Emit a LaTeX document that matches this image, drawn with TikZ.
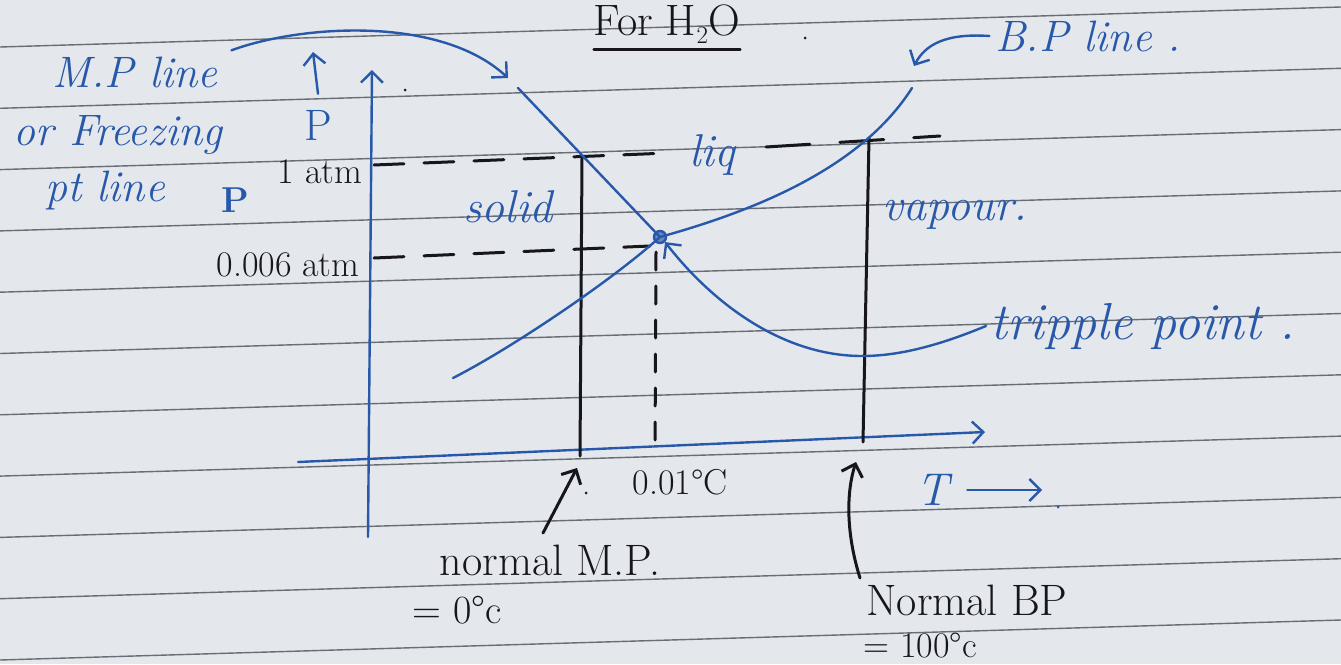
\documentclass[tikz,border=0pt]{standalone}
\usepackage{fontspec}
\usetikzlibrary{arrows.meta}
\definecolor{paper}{RGB}{228,232,236}
\definecolor{ruleclr}{RGB}{105,110,118}
\definecolor{ink}{RGB}{40,88,170}
\definecolor{pen}{RGB}{22,22,28}
\tikzset{
  bl/.style={text=ink, font=\fontsize{46}{50}\selectfont\itshape, inner sep=0pt},
  bk/.style={text=pen, font=\fontsize{40}{44}\selectfont, inner sep=0pt},
  bline/.style={draw=ink, line width=2.4pt, line cap=round},
  kline/.style={draw=pen, line width=3pt, line cap=round},
  tip/.style={-{Straight Barb[length=11pt,width=22pt]}},
  ruled/.style={draw=ruleclr, line width=1.4pt},
  inkdot/.style={circle, fill=#1, inner sep=0pt, minimum size=4pt},
}
\begin{document}
\begin{tikzpicture}[x=1pt,y=-1pt]
\fill[paper] (0,0) rectangle (1341,664);
\useasboundingbox (0,0) rectangle (1341,664);
% ruled lines of the notebook page
\foreach \k in {0,...,10} \draw[ruled] (0,{47+61.3*\k}) -- (1341,{7+61.3*\k});

% title
\node[bk, font=\fontsize{44}{48}\selectfont] (title) at (667,24) {For H$_2$O};
\draw[kline, line width=2.5pt] ([yshift=-6pt]title.south west) -- ([yshift=-6pt]title.south east);
\node[inkdot=pen, minimum size=3pt] (d0) at (805,38) {};

% axes
\coordinate (ybot) at (368,537);
\coordinate (ytop) at (372,70);
\coordinate (xl) at (298,462);
\coordinate (xr) at (985,432);
\draw[bline, tip] (ybot) -- (ytop);
\draw[bline, tip] (xl) -- (xr);
\node[inkdot=pen, minimum size=3pt] (d1) at (405,90) {};

% axis labels
\node[bl, font=\fontsize{44}{48}\selectfont] (plab) at (318,125) {P};
\coordinate (ptop) at (313,52);
\draw[bline, tip] ([yshift=16pt]plab.north) -- (ptop);
\node[bl, font=\fontsize{36}{40}\selectfont\bfseries] (p2) at (235,200) {P};
\node[bl] (T) at (933,490) {T};
\coordinate (tend) at (1042,490);
\draw[bline, tip] ([xshift=18pt]T.east) -- (tend);
\node[inkdot=ink, minimum size=3pt] (d2) at (1058,507) {};

% pressure ticks
\node[bk, font=\fontsize{36}{40}\selectfont] (atm1) at (320,172) {1 atm};
\node[bk, font=\fontsize{36}{40}\selectfont] (atm2) at (288,265) {0.006 atm};
\coordinate (a1l) at (374,165);
\coordinate (a1m) at (668,153);
\coordinate (a1n) at (766,147);
\coordinate (a1r) at (940,136);
\coordinate (a2l) at (374,258);
\coordinate (a2r) at (650,246);
\draw[kline, dash pattern=on 30pt off 20pt] (a1l) -- (a1m);
\draw[kline, dash pattern=on 44pt off 30pt] (a1n) -- (a1r);
\draw[kline, dash pattern=on 30pt off 20pt] (a2l) -- (a2r);

% vertical temperature lines
\coordinate (mpt) at (582,158);
\coordinate (mpb) at (580,456);
\coordinate (bpt) at (869,138);
\coordinate (bpb) at (863,442);
\coordinate (tpv) at (656,252);
\coordinate (tpb) at (655,452);
\draw[kline] (mpt) -- (mpb);
\draw[kline] (bpt) -- (bpb);
\draw[kline, dash pattern=on 18pt off 16pt] (tpv) -- (tpb);

% phase boundary curves
\node[circle, draw=ink, fill=ink!70, line width=2.4pt, minimum size=12pt, inner sep=0pt] (tp) at (660,237) {};
\coordinate (mptop) at (518,88);
\coordinate (vl) at (453,378);
\coordinate (vr) at (912,88);
\draw[bline] (mptop) -- (tp.center);
\draw[bline] (vl) .. controls (510,349) and (610,282) .. (tp.center)
             .. controls (750,212) and (860,170) .. (vr);

% region labels
\node[bl] (solid) at (508,207) {solid};
\node[bl] (liq) at (712,155) {liq};
\node[bl] (vap) at (955,215) {vapour.};

% annotations with leaders
\node[bl, font=\fontsize{44}{48}\selectfont\itshape] (mp1) at (135,72) {M.P line};
\node[bl, font=\fontsize{44}{48}\selectfont\itshape] (mp2) at (118,135) {or Freezing};
\node[bl, font=\fontsize{44}{48}\selectfont\itshape] (mp3) at (105,190) {pt line};
\coordinate (mparr) at (508,78);
\draw[bline, tip] ([xshift=14pt,yshift=6pt]mp1.north east) .. controls (300,25) and (440,15) .. (mparr);

\node[bl, font=\fontsize{44}{48}\selectfont\itshape] (bpl) at (1088,36) {B.P line .};
\coordinate (bparr) at (914,66);
\draw[bline, tip] ([xshift=-6pt]bpl.west) .. controls (945,33) and (925,45) .. (bparr);

\node[bl, font=\fontsize{52}{56}\selectfont\itshape, anchor=west] (trip) at (990,326) {tripple point .};
\draw[bline, tip] ([xshift=-4pt]trip.west) .. controls (940,345) and (900,356) .. (862,356)
             .. controls (780,356) and (710,300) .. (tp.south east);

% temperature labels
\node[bk, font=\fontsize{36}{40}\selectfont] (t001) at (680,482) {0.01°C};
\node[inkdot=pen, minimum size=3pt] (d3) at (586,493) {};
\node[bk, font=\fontsize{44}{48}\selectfont] (nmp) at (550,560) {normal M.P.};
\node[bk, font=\fontsize{40}{44}\selectfont] (nmp2) at (457,610) {= 0°c};
\coordinate (nmpa) at (543,533);
\coordinate (nmpt) at (577,468);
\draw[kline, tip] (nmpa) -- (nmpt);

\node[bk, font=\fontsize{44}{48}\selectfont] (nbp) at (967,600) {Normal BP};
\node[bk, font=\fontsize{36}{40}\selectfont] (nbp2) at (920,645) {= 100°c};
\coordinate (nbpa) at (860,578);
\coordinate (nbpt) at (856,462);
\draw[kline, tip] (nbpa) .. controls (845,530) and (847,490) .. (nbpt);
\end{tikzpicture}
\end{document}
